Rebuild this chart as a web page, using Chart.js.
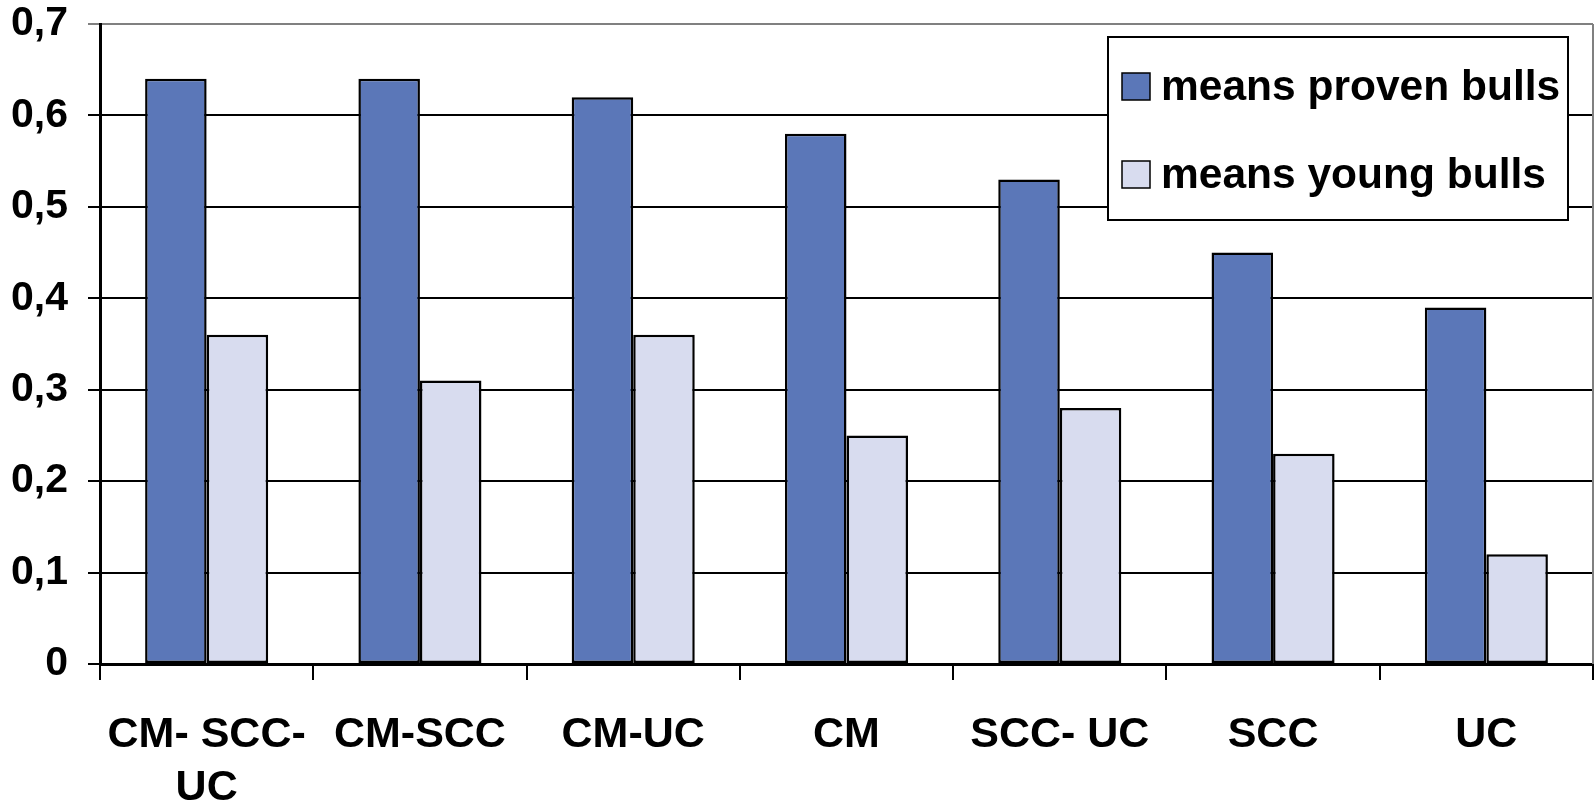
<!DOCTYPE html>
<html>
<head>
<meta charset="utf-8">
<script src="https://cdn.jsdelivr.net/npm/chart.js@4"></script>
<style>
  html, body { margin: 0; padding: 0; background: #ffffff; }
  #wrap { width: 1595px; height: 806px; position: relative; }
</style>
</head>
<body>
<div id="wrap"><canvas id="chart"></canvas></div>
<script>
// Trait groups
const categories = [['CM- SCC-', 'UC'], 'CM-SCC', 'CM-UC', 'CM', 'SCC- UC', 'SCC', 'UC'];
// Mean values per group
const provenBulls = [0.64, 0.64, 0.62, 0.58, 0.53, 0.45, 0.39];
const youngBulls  = [0.36, 0.31, 0.36, 0.25, 0.28, 0.23, 0.12];
const seriesNames = ['means proven bulls', 'means young bulls'];
// Value axis labels (decimal comma)
const yTickLabels = ['0', '0,1', '0,2', '0,3', '0,4', '0,5', '0,6', '0,7'];

const FONT = '"Liberation Sans", Arial, sans-serif';
const DARK = '#5B77B8';
const LIGHT = '#D8DCEF';

// Boxed legend inside the plot, plus the grey frame on the right edge
const framePlugin = {
  id: 'frameAndLegend',
  afterDraw(chart) {
    const { ctx, chartArea } = chart;
    ctx.save();
    ctx.strokeStyle = '#808080';
    ctx.lineWidth = 2;
    ctx.beginPath();
    ctx.moveTo(chartArea.right, chartArea.top);
    ctx.lineTo(chartArea.right, chartArea.bottom);
    ctx.stroke();

    const bx = 1108, by = 37, bw = 460, bh = 183;
    ctx.fillStyle = '#ffffff';
    ctx.fillRect(bx, by, bw, bh);
    ctx.strokeStyle = '#000000';
    ctx.lineWidth = 2;
    ctx.strokeRect(bx, by, bw, bh);

    const baselines = [100, 188];
    chart.data.datasets.forEach((ds, i) => {
      const base = baselines[i];
      ctx.fillStyle = ds.backgroundColor;
      ctx.fillRect(1122, base - 27, 28, 27);
      ctx.strokeStyle = '#000000';
      ctx.lineWidth = 1.5;
      ctx.strokeRect(1122, base - 27, 28, 27);
      ctx.fillStyle = '#000000';
      ctx.font = 'bold 42.5px ' + FONT;
      ctx.textAlign = 'left';
      ctx.textBaseline = 'alphabetic';
      ctx.fillText(ds.label, 1161, base);
    });
    ctx.restore();
  }
};

new Chart(document.getElementById('chart'), {
  type: 'bar',
  data: {
    labels: categories,
    datasets: [
      { label: seriesNames[0], data: provenBulls, backgroundColor: DARK,
        borderColor: '#000000', borderWidth: 2.5, borderSkipped: false },
      { label: seriesNames[1], data: youngBulls, backgroundColor: LIGHT,
        borderColor: '#000000', borderWidth: 2.5, borderSkipped: false }
    ]
  },
  options: {
    responsive: true,
    maintainAspectRatio: false,
    animation: false,
    layout: { padding: { left: 0, right: 2, top: 24, bottom: 0 } },
    datasets: { bar: { categoryPercentage: 0.577, barPercentage: 1.0 } },
    plugins: {
      legend: { display: false },
      tooltip: { enabled: false }
    },
    scales: {
      x: {
        offset: true,
        grid: {
          offset: true,
          drawOnChartArea: false,
          drawTicks: true,
          tickLength: 16,
          color: '#000000',
          lineWidth: 2
        },
        border: { display: true, color: '#000000', width: 3 },
        ticks: {
          color: '#000000',
          padding: 28,
          maxRotation: 0,
          autoSkip: false,
          font: { family: FONT, size: 43, weight: 'bold', lineHeight: 1.25 }
        },
        afterFit(scale) { scale.height = 142; }
      },
      y: {
        min: 0,
        max: 0.7,
        ticks: {
          stepSize: 0.1,
          color: '#000000',
          padding: 20,
          font: { family: FONT, size: 41, weight: 'bold', lineHeight: 1.2 },
          callback: (value, index) => yTickLabels[index]
        },
        grid: {
          color: (c) => (c.tick && Math.abs(c.tick.value - 0.7) < 1e-9) ? '#808080' : '#000000',
          lineWidth: 2,
          drawTicks: true,
          tickLength: 12
        },
        border: { display: true, color: '#000000', width: 3 },
        afterFit(scale) {
          scale.width = 100;
          scale.paddingTop = 0;
          scale.paddingBottom = 0;
        }
      }
    }
  },
  plugins: [framePlugin]
});
</script>
</body>
</html>
